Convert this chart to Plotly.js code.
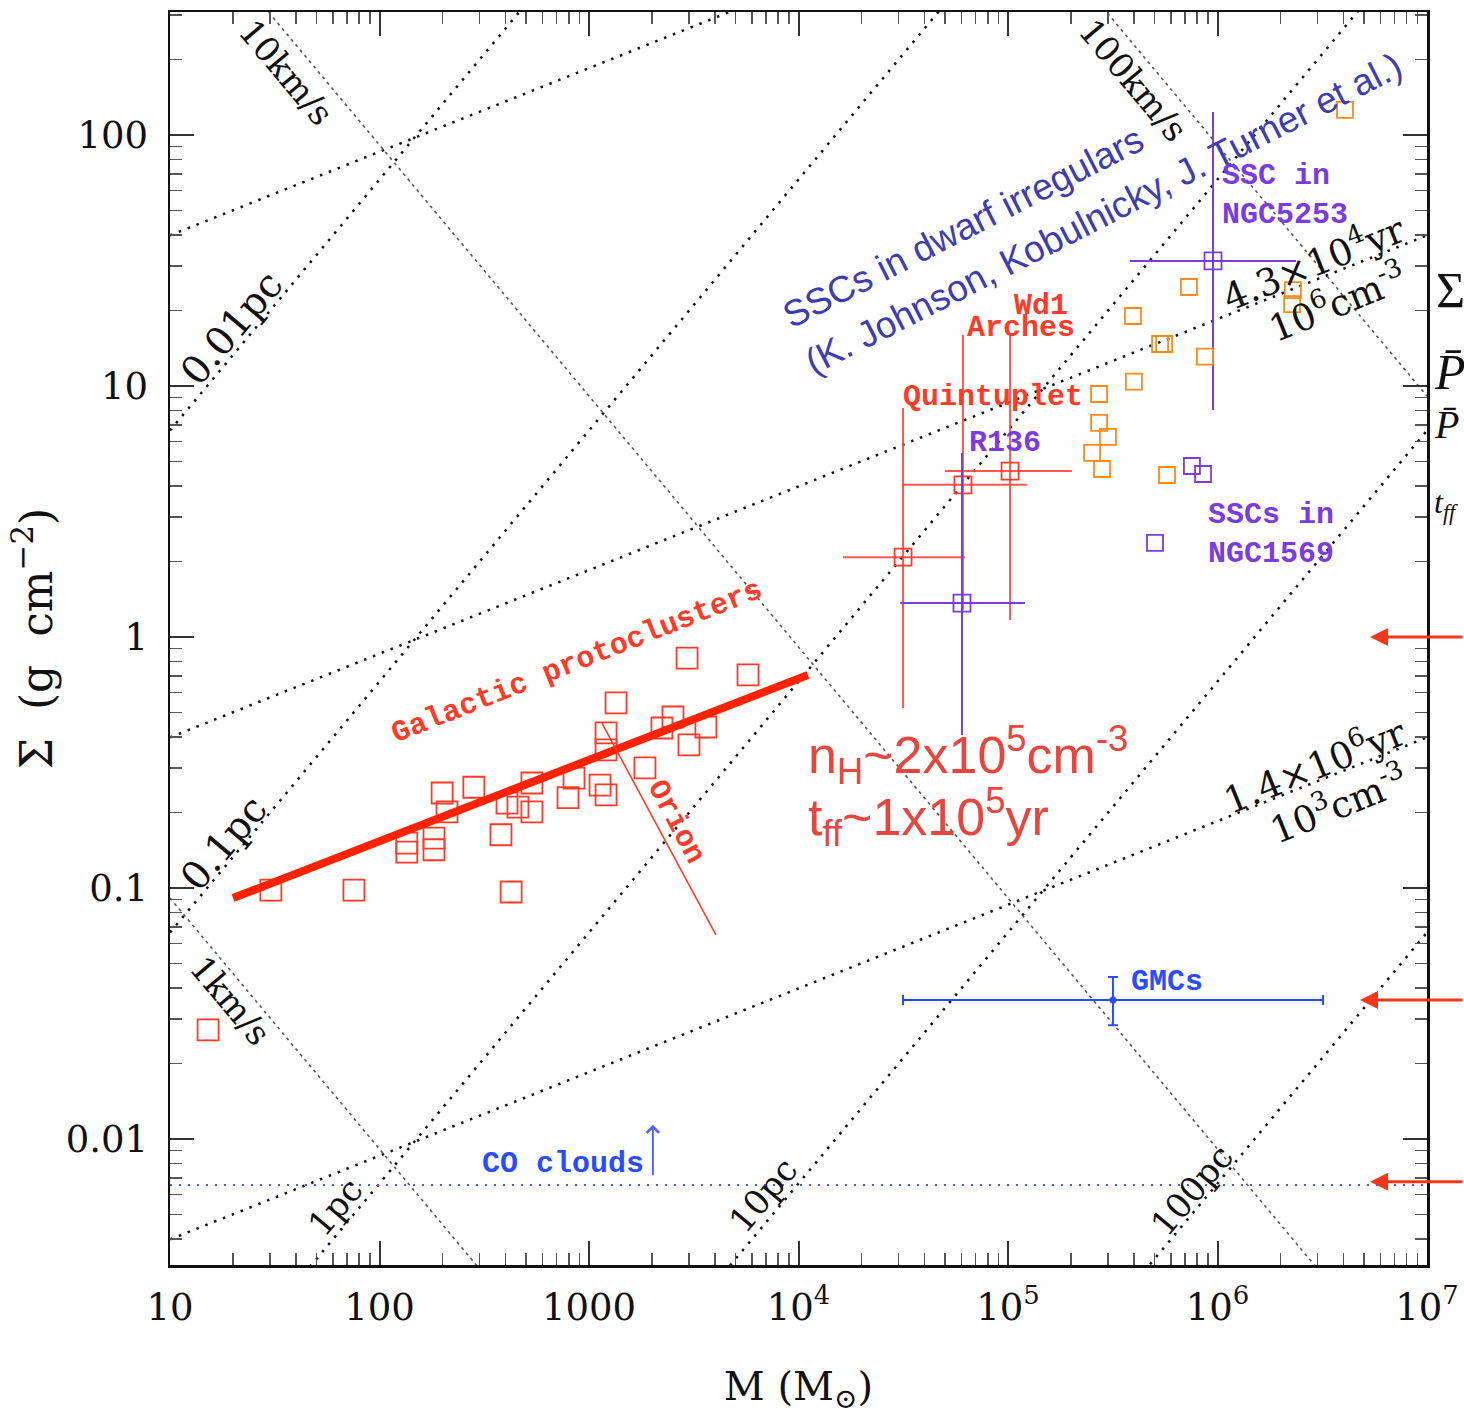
<!DOCTYPE html>
<html><head><meta charset="utf-8">
<script src="https://cdn.plot.ly/plotly-3.0.1.min.js"></script>
<style>html,body{margin:0;padding:0;background:#fff;} #chart{width:1464px;height:1421px;}</style>
</head><body><div id="chart"></div>
<script>
// ---------------- DATA ----------------
const massTickVals = [10, 100, 1000, 1e4, 1e5, 1e6, 1e7];
const massTickText = ['10', '100', '1000', '10<sup>4</sup>', '10<sup>5</sup>', '10<sup>6</sup>', '10<sup>7</sup>'];
const sigmaTickVals = [0.01, 0.1, 1, 10, 100];
const sigmaTickText = ['0.01', '0.1', '1', '10', '100'];
const minorDigits = [2, 3, 4, 5, 6, 7, 8, 9];
const massDecades = [10, 100, 1000, 1e4, 1e5, 1e6];
const sigmaDecades = [0.001, 0.01, 0.1, 1, 10, 100];

// guide lines: Sigma values at M = 10 and M = 1e7
const guideMassEnds = [10, 1e7];
const radiusLabels = ['0.01pc', '0.1pc', '1pc', '10pc', '100pc'];
const radiusSigmaEnds = [[6.648, 6.648e6], [0.06648, 6.648e4], [6.648e-4, 664.8], [6.648e-6, 6.648], [6.648e-8, 0.06648]];
const velocityLabels = ['1km/s', '10km/s', '100km/s'];
const velocitySigmaEnds = [[0.0912, 9.12e-8], [912, 9.12e-4], [9.12e6, 9.12]];
const densityLabels = ['1e3', '1e6', '1e9'];
const densitySigmaEnds = [[0.00398, 0.398], [0.398, 39.8], [39.8, 3981]];

// Galactic protoclusters
const protoMass = [15.2, 30.3, 75.5, 425, 135, 135, 182, 182, 199, 210, 282, 380, 406, 458, 534, 534, 794, 848, 1129, 1206, 1206, 1206, 1346, 1849, 2229, 2516, 3000, 3614, 2938, 5741];
const protoSigma = [0.0272, 0.098, 0.098, 0.0964, 0.139, 0.151, 0.142, 0.158, 0.239, 0.201, 0.252, 0.163, 0.218, 0.210, 0.262, 0.201, 0.229, 0.274, 0.257, 0.235, 0.415, 0.355, 0.546, 0.301, 0.434, 0.480, 0.372, 0.438, 0.824, 0.706];
const fitMass = [20, 11100];
const fitSigma = [0.0912, 0.706];
const orionMass = [1153, 4036];
const orionSigma = [0.454, 0.065];

// young massive clusters (red)
const youngNames = ['Quintuplet', 'Arches', 'Wd1'];
const youngMass = [31550, 60950, 102300];
const youngMassLo = [16300, 31200, 50000];
const youngMassHi = [62400, 123000, 201900];
const youngSigma = [2.08, 4.04, 4.58];
const youngSigmaLo = [0.521, 1.28, 1.17];
const youngSigmaHi = [8.17, 15.96, 15.96];

// purple clusters with error bars
const sscNames = ['R136', 'SSC in NGC5253'];
const sscMass = [60300, 952000];
const sscMassLo = [30600, 382000];
const sscMassHi = [120600, 2370000];
const sscSigma = [1.365, 31.5];
const sscSigmaLo = [0.407, 8.02];
const sscSigmaHi = [5.41, 123.5];

// SSCs in NGC1569
const n1569Mass = [503000, 755000, 853000];
const n1569Sigma = [2.37, 4.80, 4.46];

// SSCs in dwarf irregulars (orange)
const dwarfMass = [4.06e6, 2.29e6, 2.27e6, 731000, 395000, 532000, 556000, 871000, 272000, 399000, 272000, 300000, 252000, 281000, 574000];
const dwarfSigma = [125.8, 24.1, 21.2, 24.8, 19.0, 14.7, 14.7, 13.1, 9.29, 10.4, 7.13, 6.27, 5.41, 4.67, 4.42];

// GMCs
const gmcMass = [317000];
const gmcMassLo = [31550];
const gmcMassHi = [3.19e6];
const gmcSigma = [0.0358];
const gmcSigmaLo = [0.0284];
const gmcSigmaHi = [0.0442];

// CO clouds
const coMass = [10, 1e7];
const coSigma = [0.00656, 0.00656];
const coArrowMass = 2018;
const coArrowSigma = 0.0114;

// right-side arrows
const arrowMass = [5.35e6, 4.79e6, 5.35e6];
const arrowSigma = [1.0, 0.0358, 0.00675];

// ---------------- HELPERS ----------------
const L = Math.log10;
const ax = px => 1 + (px - 170) / 209.5;     // pixel -> log10 M
const ay = py => 2 - (py - 135) / 251;       // pixel -> log10 Sigma
const minus = (v, lo) => v.map((x, i) => x - lo[i]);
const plus = (v, hi) => v.map((x, i) => hi[i] - x);
const minorTicks = decs => decs.flatMap(d => minorDigits.map(m => m * d));

const RED = '#ff3a28', ORANGE = '#ff8a1c', PURPLE = '#7a3ce0', BLUE = '#2a4cff';
const traces = [];
const skip = {hoverinfo: 'skip', showlegend: false};

radiusSigmaEnds.forEach(s => traces.push(Object.assign({x: guideMassEnds, y: s, mode: 'lines',
  line: {color: '#111', width: 2.5, dash: '2.5px,7px'}}, skip)));
densitySigmaEnds.forEach(s => traces.push(Object.assign({x: guideMassEnds, y: s, mode: 'lines',
  line: {color: '#111', width: 2.5, dash: '2.5px,7px'}}, skip)));
velocitySigmaEnds.forEach(s => traces.push(Object.assign({x: guideMassEnds, y: s, mode: 'lines',
  line: {color: '#555', width: 1.6, dash: '3px,4px'}}, skip)));

traces.push(Object.assign({x: coMass, y: coSigma, mode: 'lines', line: {color: '#3f5cff', width: 2, dash: '2px,7px'}}, skip));

traces.push(Object.assign({x: protoMass, y: protoSigma, mode: 'markers',
  marker: {symbol: 'square-open', size: 21, color: RED, line: {width: 1.8, color: RED}}}, skip));
traces.push(Object.assign({x: fitMass, y: fitSigma, mode: 'lines', line: {color: '#ff2200', width: 8}}, skip));
traces.push(Object.assign({x: orionMass, y: orionSigma, mode: 'lines', line: {color: RED, width: 1.6}}, skip));

traces.push(Object.assign({x: youngMass, y: youngSigma, mode: 'markers',
  marker: {symbol: 'square-open', size: 17, color: RED, line: {width: 1.8, color: RED}},
  error_x: {type: 'data', symmetric: false, array: plus(youngMass, youngMassHi), arrayminus: minus(youngMass, youngMassLo), width: 0, thickness: 2, color: 'rgba(255,70,60,0.9)'},
  error_y: {type: 'data', symmetric: false, array: plus(youngSigma, youngSigmaHi), arrayminus: minus(youngSigma, youngSigmaLo), width: 0, thickness: 2, color: 'rgba(255,70,60,0.9)'}}, skip));

traces.push(Object.assign({x: sscMass, y: sscSigma, mode: 'markers',
  marker: {symbol: 'square-open', size: 17, color: PURPLE, line: {width: 1.8, color: PURPLE}},
  error_x: {type: 'data', symmetric: false, array: plus(sscMass, sscMassHi), arrayminus: minus(sscMass, sscMassLo), width: 0, thickness: 2, color: PURPLE},
  error_y: {type: 'data', symmetric: false, array: plus(sscSigma, sscSigmaHi), arrayminus: minus(sscSigma, sscSigmaLo), width: 0, thickness: 2, color: PURPLE}}, skip));

traces.push(Object.assign({x: n1569Mass, y: n1569Sigma, mode: 'markers',
  marker: {symbol: 'square-open', size: 16, color: PURPLE, line: {width: 1.8, color: PURPLE}}}, skip));
traces.push(Object.assign({x: dwarfMass, y: dwarfSigma, mode: 'markers',
  marker: {symbol: 'square-open', size: 16, color: ORANGE, line: {width: 1.8, color: ORANGE}}}, skip));

traces.push(Object.assign({x: gmcMass, y: gmcSigma, mode: 'markers',
  marker: {symbol: 'circle', size: 7, color: BLUE},
  error_x: {type: 'data', symmetric: false, array: plus(gmcMass, gmcMassHi), arrayminus: minus(gmcMass, gmcMassLo), width: 5, thickness: 2, color: BLUE},
  error_y: {type: 'data', symmetric: false, array: plus(gmcSigma, gmcSigmaHi), arrayminus: minus(gmcSigma, gmcSigmaLo), width: 5, thickness: 2, color: BLUE}}, skip));

// ---------------- ANNOTATIONS ----------------
const SERIF = 'DejaVu Serif';
const MONO = 'Liberation Mono';
const ann = [];
function txt(text, px, py, o) {
  ann.push(Object.assign({text: text, x: ax(px), y: ay(py), xref: 'x', yref: 'y', showarrow: false,
    xanchor: 'center', yanchor: 'middle'}, o));
}
const guideFont = {family: SERIF, size: 34, color: '#111'};
const densFont = {family: SERIF, size: 37, color: '#111'};
txt('10km/s', 286, 72, {textangle: 50, font: guideFont});
txt('100km/s', 1133, 80, {textangle: 50, font: guideFont});
txt('1km/s', 230, 1000, {textangle: 50, font: guideFont});
txt('0.01pc', 232, 328, {textangle: -50, font: {family: SERIF, size: 39, color: '#111'}});
txt('0.1pc', 223, 843, {textangle: -50, font: {family: SERIF, size: 39, color: '#111'}});
txt('1pc', 335, 1207, {textangle: -50, font: guideFont});
txt('10pc', 763, 1195, {textangle: -50, font: guideFont});
txt('100pc', 1192, 1190, {textangle: -50, font: guideFont});
txt('4.3×10<sup>4</sup>yr', 1313, 262, {textangle: -22, font: densFont});
txt('10<sup>6</sup>cm<sup>-3</sup>', 1337, 302, {textangle: -22, font: densFont});
txt('1.4×10<sup>6</sup>yr', 1314, 765, {textangle: -22, font: densFont});
txt('10<sup>3</sup>cm<sup>-3</sup>', 1338, 803, {textangle: -22, font: densFont});

const lab = (c) => ({family: MONO, size: 30, color: c, weight: 'bold'});
txt('Galactic protoclusters', 577, 662, {textangle: -21.7, font: lab(RED)});
txt('Orion', 676, 822, {textangle: 62, font: lab(RED)});
txt('Quintuplet', 993, 397, {font: lab(RED)});
txt('Arches', 1021, 328, {font: lab(RED)});
txt('Wd1', 1041, 306, {font: lab(RED)});
txt('R136', 1005, 443, {font: lab(PURPLE)});
txt('SSC in<br>NGC5253', 1285, 196, {align: 'left', font: lab(PURPLE)});
txt('SSCs in<br>NGC1569', 1271, 535, {align: 'left', font: lab(PURPLE)});
txt('GMCs', 1167, 982, {font: lab(BLUE)});
txt('CO clouds', 563, 1164, {font: lab(BLUE)});

const blueFont = {family: 'Liberation Sans', size: 37, color: '#3d3daf'};
txt('SSCs in dwarf irregulars', 963, 228, {textangle: -27, font: blueFont});
txt('(K. Johnson, Kobulnicky, J. Turner et al.)', 1104, 214, {textangle: -27, font: blueFont});

const redFont = {family: 'Liberation Sans', size: 52, color: '#e8453c'};
txt('n<sub>H</sub>~2x10<sup>5</sup>cm<sup>-3</sup>', 806, 755, {xanchor: 'left', font: redFont});
txt('t<sub>ff</sub>~1x10<sup>5</sup>yr', 806, 817, {xanchor: 'left', font: redFont});

// cut-off text at the right edge
function edge(text, px, py, o) {
  ann.push(Object.assign({text: text, x: (px - 170) / 1257, y: ay(py), xref: 'paper', yref: 'y', showarrow: false,
    xanchor: 'left', yanchor: 'middle'}, o));
}
edge('Σ', 1434, 290, {font: {family: 'Liberation Serif', size: 50, color: '#111'}});
edge('<i>P̄</i>', 1432, 372, {font: {family: 'Liberation Serif', size: 50, color: '#111'}});
edge('<i>P̄</i>', 1432, 425, {font: {family: 'Liberation Serif', size: 40, color: '#111'}});
edge('<i>t<sub>ff</sub></i>', 1432, 505, {font: {family: 'Liberation Serif', size: 32, color: '#111'}});

// arrows
ann.push({x: L(coArrowMass), y: L(coArrowSigma), xref: 'x', yref: 'y', ax: 0, ay: 52, text: '', showarrow: true,
  arrowhead: 4, arrowsize: 1.2, arrowwidth: 2, arrowcolor: '#4a66ff'});
arrowMass.forEach((m, i) => ann.push({x: L(m), y: L(arrowSigma[i]), xref: 'x', yref: 'y', ax: 110, ay: 0, text: '',
  showarrow: true, arrowhead: 2, arrowsize: 1.2, arrowwidth: 3, arrowcolor: '#f2381c'}));

// ---------------- LAYOUT ----------------
const axisCommon = {
  type: 'log', showgrid: false, zeroline: false, showline: true, linecolor: '#111', linewidth: 2.5,
  mirror: 'allticks', ticks: 'inside', ticklen: 24, tickwidth: 2, tickcolor: '#333',
  tickmode: 'array', tickfont: {family: SERIF, size: 37, color: '#111'}
};
const layout = {
  width: 1464, height: 1421,
  margin: {l: 170, r: 37, t: 12, b: 156, pad: 0},
  paper_bgcolor: '#fff', plot_bgcolor: '#fff', showlegend: false,
  xaxis: Object.assign({}, axisCommon, {range: [1, 7], tickvals: massTickVals, ticktext: massTickText,
    ticklabelstandoff: 8,
    minor: {tickmode: 'array', tickvals: minorTicks(massDecades), ticks: 'inside', ticklen: 12, tickwidth: 1.6, tickcolor: '#555', showgrid: false},
    title: {text: 'M (M<sub>⊙</sub>)', font: {family: SERIF, size: 40, color: '#111'}, standoff: 44}}),
  yaxis: Object.assign({}, axisCommon, {range: [-2.502, 2.49], tickvals: sigmaTickVals, ticktext: sigmaTickText,
    ticklabelstandoff: 12,
    minor: {tickmode: 'array', tickvals: minorTicks(sigmaDecades), ticks: 'inside', ticklen: 12, tickwidth: 1.6, tickcolor: '#555', showgrid: false},
    title: {text: 'Σ  (g  cm<sup>−2</sup>)', font: {family: SERIF, size: 44, color: '#111'}, standoff: 0}}),
  annotations: ann
};
Plotly.newPlot('chart', traces, layout, {displayModeBar: false, staticPlot: true});
</script></body></html>
